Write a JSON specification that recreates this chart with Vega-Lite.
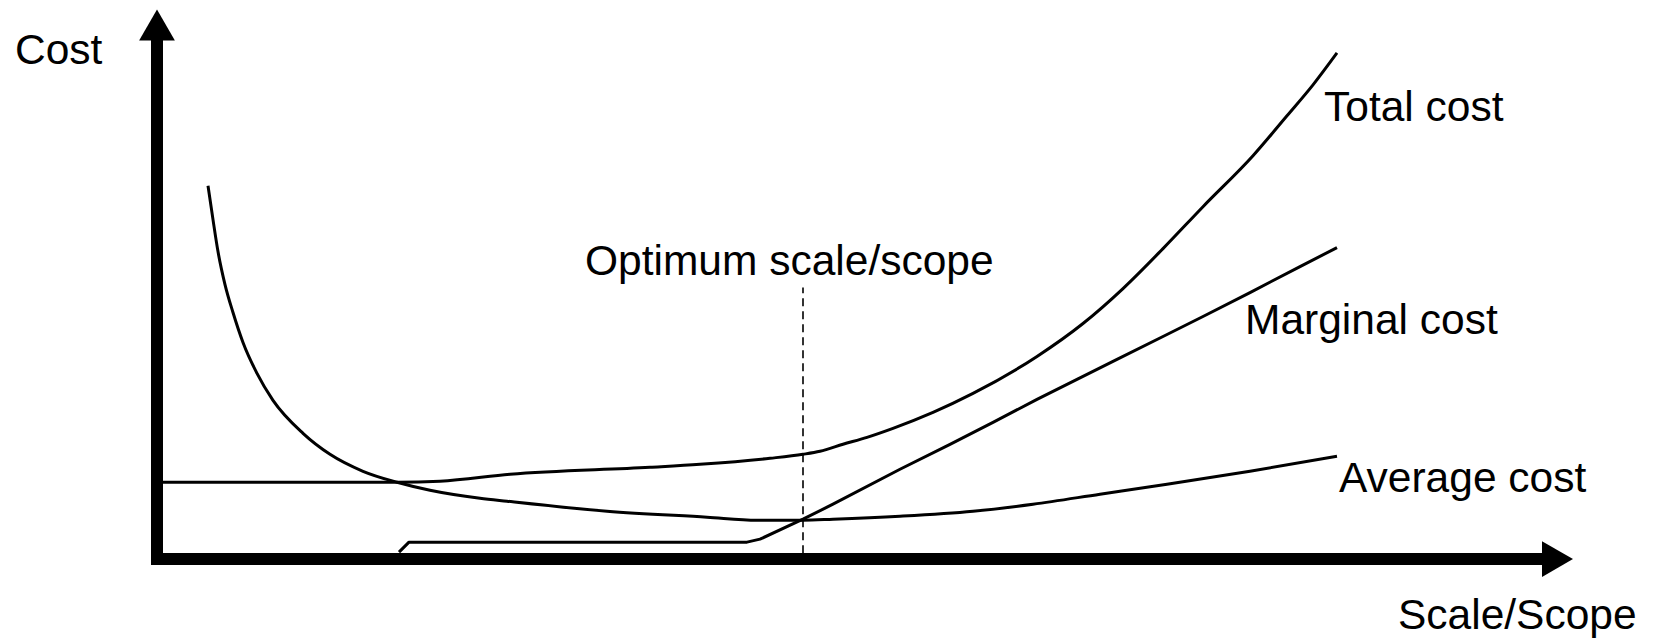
{
  "$schema": "https://vega.github.io/schema/vega-lite/v6.json",
  "width": 1655,
  "height": 638,
  "padding": 0,
  "autosize": {"type": "fit", "contains": "padding"},
  "background": "white",
  "config": {"view": {"stroke": null}},
  "datasets": {
    "curves": [
      {"series": "Total cost", "x": 0, "y": 7.7},
      {"series": "Total cost", "x": 24.0, "y": 7.7},
      {"series": "Total cost", "x": 28.3, "y": 7.8},
      {"series": "Total cost", "x": 35.3, "y": 8.5},
      {"series": "Total cost", "x": 49.3, "y": 9.2},
      {"series": "Total cost", "x": 54.3, "y": 9.5},
      {"series": "Total cost", "x": 61.3, "y": 10.1},
      {"series": "Total cost", "x": 64.6, "y": 10.5},
      {"series": "Total cost", "x": 66.3, "y": 10.8},
      {"series": "Total cost", "x": 68.6, "y": 11.5},
      {"series": "Total cost", "x": 71.0, "y": 12.2},
      {"series": "Total cost", "x": 73.6, "y": 13.1},
      {"series": "Total cost", "x": 77.6, "y": 14.7},
      {"series": "Total cost", "x": 81.6, "y": 16.6},
      {"series": "Total cost", "x": 88.0, "y": 20.3},
      {"series": "Total cost", "x": 92.6, "y": 23.6},
      {"series": "Total cost", "x": 96.6, "y": 27.1},
      {"series": "Total cost", "x": 100.6, "y": 31.1},
      {"series": "Total cost", "x": 104.6, "y": 35.3},
      {"series": "Total cost", "x": 109.6, "y": 40.4},
      {"series": "Total cost", "x": 113.0, "y": 44.4},
      {"series": "Total cost", "x": 115.6, "y": 47.5},
      {"series": "Total cost", "x": 118.0, "y": 50.7},
      {"series": "Average cost", "x": 5.1, "y": 37.4},
      {"series": "Average cost", "x": 5.6, "y": 34.0},
      {"series": "Average cost", "x": 6.1, "y": 30.8},
      {"series": "Average cost", "x": 6.8, "y": 27.5},
      {"series": "Average cost", "x": 7.6, "y": 24.7},
      {"series": "Average cost", "x": 8.6, "y": 21.7},
      {"series": "Average cost", "x": 10.0, "y": 18.6},
      {"series": "Average cost", "x": 11.6, "y": 15.9},
      {"series": "Average cost", "x": 14.6, "y": 12.6},
      {"series": "Average cost", "x": 17.3, "y": 10.5},
      {"series": "Average cost", "x": 20.6, "y": 8.8},
      {"series": "Average cost", "x": 24.0, "y": 7.7},
      {"series": "Average cost", "x": 27.3, "y": 6.9},
      {"series": "Average cost", "x": 32.3, "y": 6.1},
      {"series": "Average cost", "x": 35.0, "y": 5.8},
      {"series": "Average cost", "x": 45.0, "y": 4.8},
      {"series": "Average cost", "x": 55.0, "y": 4.2},
      {"series": "Average cost", "x": 60.0, "y": 3.9},
      {"series": "Average cost", "x": 64.6, "y": 3.9},
      {"series": "Average cost", "x": 67.6, "y": 4.0},
      {"series": "Average cost", "x": 74.3, "y": 4.3},
      {"series": "Average cost", "x": 81.6, "y": 4.8},
      {"series": "Average cost", "x": 87.6, "y": 5.5},
      {"series": "Average cost", "x": 94.3, "y": 6.5},
      {"series": "Average cost", "x": 101.0, "y": 7.5},
      {"series": "Average cost", "x": 109.3, "y": 8.8},
      {"series": "Average cost", "x": 118.0, "y": 10.3},
      {"series": "Marginal cost", "x": 24.2, "y": 0.7},
      {"series": "Marginal cost", "x": 25.2, "y": 1.7},
      {"series": "Marginal cost", "x": 59.0, "y": 1.7},
      {"series": "Marginal cost", "x": 60.3, "y": 2.0},
      {"series": "Marginal cost", "x": 64.6, "y": 4.0},
      {"series": "Marginal cost", "x": 67.6, "y": 5.5},
      {"series": "Marginal cost", "x": 74.3, "y": 9.0},
      {"series": "Marginal cost", "x": 79.3, "y": 11.5},
      {"series": "Marginal cost", "x": 83.6, "y": 13.7},
      {"series": "Marginal cost", "x": 88.0, "y": 16.0},
      {"series": "Marginal cost", "x": 92.6, "y": 18.3},
      {"series": "Marginal cost", "x": 96.0, "y": 20.0},
      {"series": "Marginal cost", "x": 100.6, "y": 22.3},
      {"series": "Marginal cost", "x": 104.6, "y": 24.3},
      {"series": "Marginal cost", "x": 109.3, "y": 26.7},
      {"series": "Marginal cost", "x": 114.3, "y": 29.3},
      {"series": "Marginal cost", "x": 118.0, "y": 31.2}
    ],
    "axes": [
      {"axis": "Cost", "x": 0, "x2": 0, "y": -0.6, "y2": 52},
      {"axis": "Scale/Scope", "x": -0.6, "x2": 138.8, "y": 0, "y2": 0}
    ],
    "heads": [
      {"axis": "Cost", "x": 0, "y": 53.5, "shape": "triangle-up"},
      {"axis": "Scale/Scope", "x": 140.05, "y": 0, "shape": "triangle-right"}
    ],
    "optimum": [
      {"label": "Optimum scale/scope", "x": 64.6, "y": 0.6, "y2": 27.2}
    ],
    "labels": [
      {"label": "Cost", "x": -14.2, "y": 49.6},
      {"label": "Total cost", "x": 116.7, "y": 43.9},
      {"label": "Marginal cost", "x": 108.8, "y": 22.5},
      {"label": "Average cost", "x": 118.2, "y": 6.7},
      {"label": "Optimum scale/scope", "x": 42.8, "y": 28.5},
      {"label": "Scale/Scope", "x": 124.1, "y": -7.0}
    ]
  },
  "encoding": {
    "x": {"field": "x", "type": "quantitative", "axis": null, "scale": {"domain": [-15.7, 149.8], "nice": false, "zero": false}},
    "y": {"field": "y", "type": "quantitative", "axis": null, "scale": {"domain": [-7.8, 56], "nice": false, "zero": false}}
  },
  "layer": [
    {
      "data": {"name": "optimum"},
      "mark": {"type": "rule", "color": "black", "strokeWidth": 1.6, "strokeDash": [8, 5]},
      "encoding": {"y2": {"field": "y2"}}
    },
    {
      "data": {"name": "curves"},
      "transform": [{"filter": "datum.series !== 'Marginal cost'"}],
      "mark": {"type": "line", "color": "black", "strokeWidth": 3, "interpolate": "monotone"},
      "encoding": {"detail": {"field": "series", "type": "nominal"}}
    },
    {
      "data": {"name": "curves"},
      "transform": [{"filter": "datum.series === 'Marginal cost'"}],
      "mark": {"type": "line", "color": "black", "strokeWidth": 3, "interpolate": "linear", "strokeJoin": "round"},
      "encoding": {"detail": {"field": "series", "type": "nominal"}}
    },
    {
      "data": {"name": "axes"},
      "mark": {"type": "rule", "color": "black", "strokeWidth": 12, "strokeCap": "butt"},
      "encoding": {"x2": {"field": "x2"}, "y2": {"field": "y2"}}
    },
    {
      "data": {"name": "heads"},
      "mark": {"type": "point", "filled": true, "color": "black", "opacity": 1, "size": 1280, "strokeWidth": 0},
      "encoding": {"shape": {"field": "shape", "type": "nominal", "scale": null}}
    },
    {
      "data": {"name": "labels"},
      "mark": {"type": "text", "align": "left", "baseline": "alphabetic", "font": "Liberation Sans", "fontSize": 42.5, "color": "black"},
      "encoding": {"text": {"field": "label"}}
    }
  ]
}
